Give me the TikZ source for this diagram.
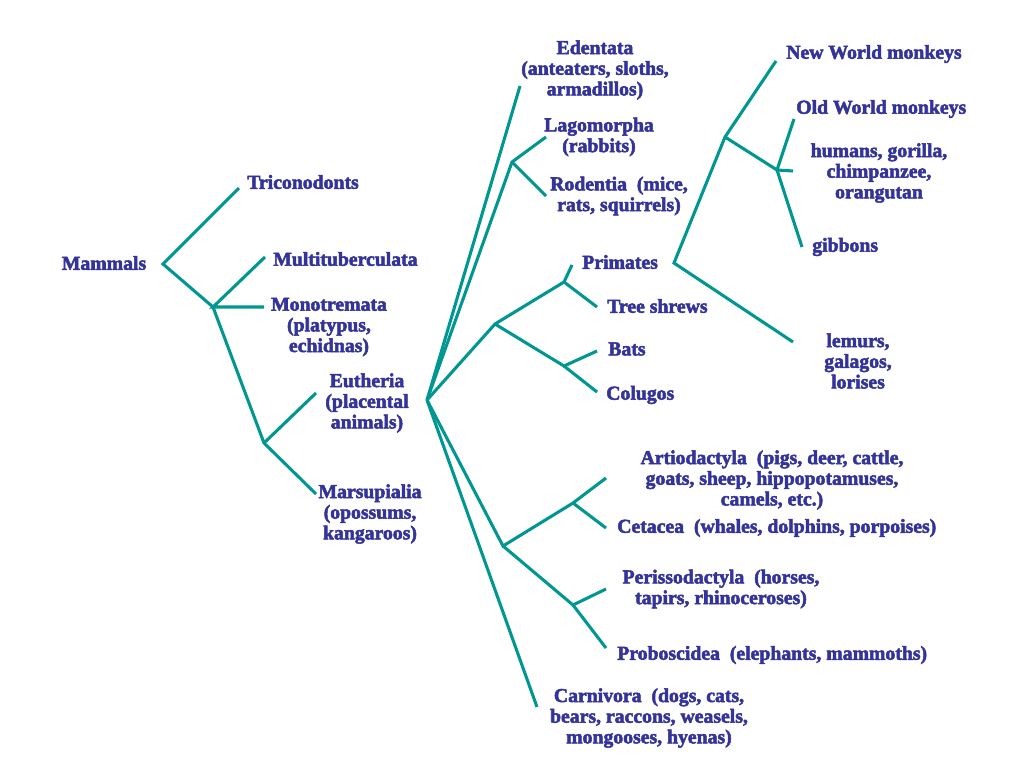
\documentclass[tikz,border=0pt]{standalone}
\usepackage{fontspec}
\setmainfont{Liberation Serif}[BoldFeatures={FakeBold=2.6}]
\definecolor{taxblue}{RGB}{51,51,153}
\definecolor{treeteal}{RGB}{0,150,145}

\begin{document}
\begin{tikzpicture}[x=0.75pt,y=-0.75pt]
	\tikzstyle{taxon}=[text=taxblue,font=\bfseries\fontsize{14.8}{15.5}\selectfont,align=center,inner sep=0pt]
	\tikzstyle{branch}=[draw=treeteal,line width=2.3pt]
	\useasboundingbox (0,0) rectangle (1024,768);
	
	% branching points and branch tips
	\coordinate (root) at (163,264);
	\coordinate (trictip) at (239,188);
	\coordinate (a) at (213,307);
	\coordinate (multitip) at (265,257);
	\coordinate (monotip) at (264,307);
	\coordinate (b) at (264,443);
	\coordinate (euthtip) at (316,393);
	\coordinate (marstip) at (316,494);
	
	\coordinate (eu) at (427,400);
	\coordinate (edtip) at (520,86);
	\coordinate (gl) at (512,162);
	\coordinate (lagotip) at (546,137);
	\coordinate (rodtip) at (546,196);
	
	\coordinate (ar) at (495,324);
	\coordinate (pt) at (564,282);
	\coordinate (primtip) at (572,265);
	\coordinate (shrewtip) at (597,307);
	\coordinate (bc) at (564,366);
	\coordinate (batstip) at (597,351);
	\coordinate (colutip) at (597,392);
	
	\coordinate (pr) at (674,263);
	\coordinate (anth) at (725,137);
	\coordinate (nwtip) at (776,61);
	\coordinate (catar) at (777,170);
	\coordinate (owtip) at (794,119);
	\coordinate (apetip) at (793,171);
	\coordinate (gibtip) at (802,247);
	\coordinate (lemtip) at (793,342);
	
	\coordinate (ung) at (503,546);
	\coordinate (ce) at (573,503);
	\coordinate (artiotip) at (606,478);
	\coordinate (cettip) at (606,528);
	\coordinate (pp) at (573,605);
	\coordinate (peristip) at (606,589);
	\coordinate (probtip) at (606,648);
	\coordinate (carntip) at (537,707);
	
	% labels
	\node[taxon](mammals) at (104,263){Mammals};
	\node[taxon,anchor=west](tricono) at (247,182){Triconodonts};
	\node[taxon,anchor=west](multi) at (273,259){Multituberculata};
	\node[taxon](mono) at (329,327){Monotremata\\(platypus,\\echidnas)};
	\node[taxon](euth) at (367,403){Eutheria\\(placental\\animals)};
	\node[taxon](mars) at (370,514){Marsupialia\\(opossums,\\kangaroos)};
	\node[taxon](edent) at (595,70){Edentata\\(anteaters, sloths,\\armadillos)};
	\node[taxon](lago) at (599,137){Lagomorpha\\(rabbits)};
	\node[taxon](rodent) at (619,196){Rodentia~~(mice,\\rats, squirrels)};
	\node[taxon,anchor=west](primates) at (582,262){Primates};
	\node[taxon,anchor=west](shrews) at (607,306){Tree shrews};
	\node[taxon,anchor=west](bats) at (608,349){Bats};
	\node[taxon,anchor=west](colugos) at (606,395){Colugos};
	\node[taxon,anchor=west](newworld) at (786,54){New World monkeys};
	\node[taxon,anchor=west](oldworld) at (796,109){Old World monkeys};
	\node[taxon](apes) at (879,173){humans, gorilla,\\chimpanzee,\\orangutan};
	\node[taxon,anchor=west](gibbons) at (812,247){gibbons};
	\node[taxon](lemurs) at (858,361){lemurs,\\galagos,\\lorises};
	\node[taxon](artio) at (772,480){Artiodactyla~~(pigs, deer, cattle,\\goats, sheep, hippopotamuses,\\camels, etc.)};
	\node[taxon,anchor=west](cetacea) at (617,528){Cetacea~~(whales, dolphins, porpoises)};
	\node[taxon](periss) at (721,589){Perissodactyla~~(horses,\\tapirs, rhinoceroses)};
	\node[taxon,anchor=west](probosc) at (617,655){Proboscidea~~(elephants, mammoths)};
	\node[taxon](carniv) at (649,718){Carnivora~~(dogs, cats,\\bears, raccons, weasels,\\mongooses, hyenas)};
	
	% branches
	\draw[branch] (trictip) -- (root) -- (a) -- (b) -- (marstip);
	\draw[branch] (multitip) -- (a) -- (monotip);
	\draw[branch] (b) -- (euthtip);
	
	\draw[branch] (eu) -- (edtip);
	\draw[branch] (eu) -- (gl) -- (lagotip);
	\draw[branch] (gl) -- (rodtip);
	\draw[branch] (eu) -- (ar) -- (pt) -- (primtip);
	\draw[branch] (pt) -- (shrewtip);
	\draw[branch] (ar) -- (bc) -- (batstip);
	\draw[branch] (bc) -- (colutip);
	\draw[branch] (nwtip) -- (anth) -- (pr) -- (lemtip);
	\draw[branch] (anth) -- (catar) -- (owtip);
	\draw[branch] (catar) -- (apetip);
	\draw[branch] (catar) -- (gibtip);
	\draw[branch] (eu) -- (ung) -- (ce) -- (artiotip);
	\draw[branch] (ce) -- (cettip);
	\draw[branch] (ung) -- (pp) -- (peristip);
	\draw[branch] (pp) -- (probtip);
	\draw[branch] (eu) -- (carntip);
	
\end{tikzpicture}
\end{document}
